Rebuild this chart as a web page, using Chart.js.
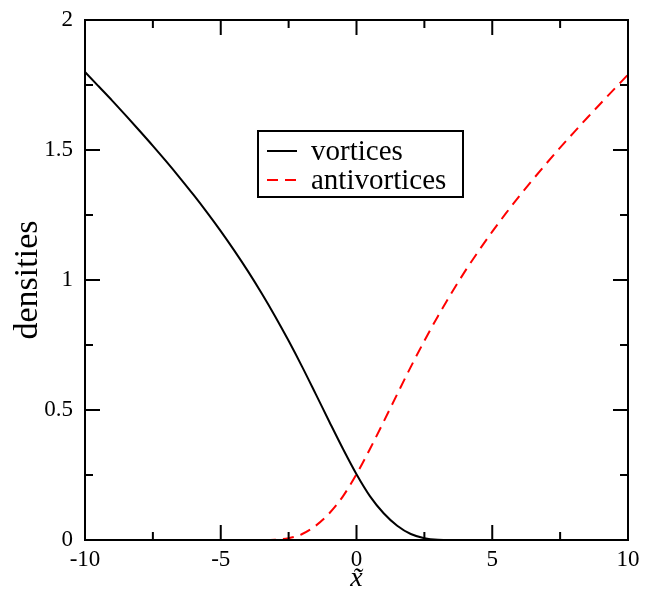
<!DOCTYPE html>
<html>
<head>
<meta charset="utf-8">
<script src="https://cdn.jsdelivr.net/npm/chart.js@4.4.1/dist/chart.umd.min.js"></script>
<style>
  html, body { margin: 0; padding: 0; background: #fff; }
  canvas { display: block; }
</style>
</head>
<body>
<canvas id="densityChart" width="646" height="603"></canvas>
<script>
// density profiles along x~
const xTilde = [-10, -9.5, -9, -8.5, -8, -7.5, -7, -6.5, -6, -5.5, -5, -4.5, -4, -3.5, -3, -2.5, -2, -1.5, -1, -0.5,
                0, 0.5, 1, 1.5, 2, 2.5, 3, 3.5, 4, 4.5, 5, 5.5, 6, 6.5, 7, 7.5, 8, 8.5, 9, 9.5, 10];
const vortices = [1.80, 1.745, 1.69, 1.633, 1.575, 1.516, 1.455, 1.392, 1.327, 1.259, 1.188, 1.113, 1.034, 0.950,
                  0.861, 0.766, 0.666, 0.561, 0.455, 0.351, 0.253, 0.168, 0.103, 0.055, 0.023, 0.007, 0.001, 0,
                  0, 0, 0, 0, 0, 0, 0, 0, 0, 0, 0, 0, 0];
const antivortices = [0, 0, 0, 0, 0, 0, 0, 0, 0, 0, 0, 0, 0, 0, 0.001, 0.007, 0.023, 0.055, 0.103, 0.168,
                      0.253, 0.351, 0.455, 0.561, 0.666, 0.766, 0.861, 0.950, 1.034, 1.112, 1.186, 1.256, 1.323,
                      1.387, 1.449, 1.509, 1.567, 1.624, 1.680, 1.735, 1.790];

const xMajor = [-10, -5, 0, 5, 10];
const xMinor = [-7.5, -2.5, 2.5, 7.5];
const yMajor = [0, 0.5, 1, 1.5, 2];
const yMinor = [0.25, 0.75, 1.25, 1.75];

const serif = '"Liberation Serif", "DejaVu Serif", serif';

function pts(ys) {
  return xTilde.map((x, i) => ({ x: x, y: ys[i] }));
}

// frame with inward ticks on all four sides, plus the boxed legend
const frameTicks = {
  id: 'frameTicks',
  afterDatasetsDraw(chart) {
    const ctx = chart.ctx;
    const a = chart.chartArea;
    const sx = chart.scales.x, sy = chart.scales.y;
    ctx.save();
    ctx.strokeStyle = '#000';
    ctx.lineWidth = 2;
    ctx.strokeRect(a.left, a.top, a.right - a.left, a.bottom - a.top);
    const tickX = (vals, len) => {
      vals.forEach(v => {
        const px = sx.getPixelForValue(v);
        ctx.beginPath();
        ctx.moveTo(px, a.bottom); ctx.lineTo(px, a.bottom - len);
        ctx.moveTo(px, a.top); ctx.lineTo(px, a.top + len);
        ctx.stroke();
      });
    };
    const tickY = (vals, len) => {
      vals.forEach(v => {
        const py = sy.getPixelForValue(v);
        ctx.beginPath();
        ctx.moveTo(a.left, py); ctx.lineTo(a.left + len, py);
        ctx.moveTo(a.right, py); ctx.lineTo(a.right - len, py);
        ctx.stroke();
      });
    };
    tickX(xMajor, 15); tickX(xMinor, 8);
    tickY(yMajor, 15); tickY(yMinor, 8);
    ctx.restore();
  },
  afterDraw(chart) {
    const ctx = chart.ctx;
    ctx.save();
    ctx.fillStyle = '#fff';
    ctx.fillRect(258, 131, 205, 66);
    ctx.strokeStyle = '#000';
    ctx.lineWidth = 2;
    ctx.strokeRect(258, 131, 205, 66);
    ctx.font = '29px ' + serif;
    ctx.textBaseline = 'middle';
    chart.data.datasets.forEach((ds, i) => {
      const y = 151 + i * 29;
      ctx.strokeStyle = ds.borderColor;
      ctx.lineWidth = 2;
      ctx.setLineDash(ds.borderDash || []);
      ctx.beginPath();
      ctx.moveTo(267, y); ctx.lineTo(297, y);
      ctx.stroke();
      ctx.setLineDash([]);
      ctx.fillStyle = '#000';
      ctx.fillText(ds.label, 311, y + 1);
    });
    ctx.restore();
  }
};

new Chart(document.getElementById('densityChart'), {
  type: 'line',
  data: {
    datasets: [
      { label: 'vortices', data: pts(vortices), borderColor: '#000', borderWidth: 2,
        pointRadius: 0, cubicInterpolationMode: 'monotone', clip: false },
      { label: 'antivortices', data: pts(antivortices), borderColor: '#ff0000', borderWidth: 2,
        borderDash: [11, 7], pointRadius: 0, cubicInterpolationMode: 'monotone', clip: false }
    ]
  },
  plugins: [frameTicks],
  options: {
    responsive: false,
    animation: false,
    layout: { padding: { left: 0, top: 20, right: 18, bottom: 0 } },
    plugins: { legend: { display: false }, tooltip: { enabled: false } },
    scales: {
      x: {
        type: 'linear', min: -10, max: 10,
        afterBuildTicks: s => { s.ticks = xMajor.map(v => ({ value: v })); },
        afterFit: s => { s.height = 63; s.paddingLeft = 0; s.paddingRight = 0; },
        grid: { display: false, drawTicks: false },
        border: { display: false },
        ticks: { color: '#000', padding: 6, font: { family: serif, size: 23 }, callback: v => String(v) },
        title: { display: true, text: 'x\u0303', color: '#000', padding: { top: 0, bottom: 8 },
                 font: { family: serif, size: 28, style: 'italic' } }
      },
      y: {
        type: 'linear', min: 0, max: 2,
        afterBuildTicks: s => { s.ticks = yMajor.map(v => ({ value: v })); },
        afterFit: s => { s.width = 85; s.paddingTop = 0; s.paddingBottom = 0; },
        grid: { display: false, drawTicks: false },
        border: { display: false },
        ticks: { color: '#000', padding: 12, font: { family: serif, size: 23 }, callback: v => String(v) },
        title: { display: true, text: 'densities', color: '#000', padding: { top: 8, bottom: 0 },
                 font: { family: serif, size: 34 } }
      }
    }
  }
});
</script>
</body>
</html>
